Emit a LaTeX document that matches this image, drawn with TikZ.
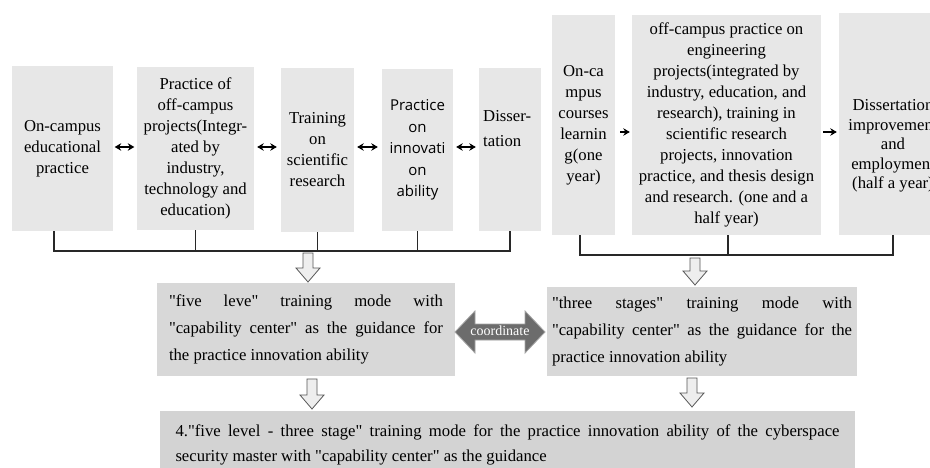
\documentclass[tikz,border=0pt]{standalone}
\usepackage{fontspec}
\setmainfont{Liberation Serif}[Ligatures=TeXOff]
\newfontfamily\boxsans{Open Sans}
\usetikzlibrary{arrows.meta,calc}

\definecolor{topfill}{RGB}{231,231,231}
\definecolor{midfill}{RGB}{216,216,216}
\definecolor{botfill}{RGB}{211,211,211}
\definecolor{barcol}{RGB}{40,40,40}
\definecolor{hollowfill}{RGB}{238,238,238}
\definecolor{hollowline}{RGB}{85,85,85}
\definecolor{coordfill}{RGB}{108,108,108}
\definecolor{coordline}{RGB}{165,165,165}

% block arrow pointing down: x, top of shaft, tip
\newcommand\hollowdown[3]{%
  \draw[hollow] (#1-5,#2) -- (#1+5,#2) -- (#1+5,#3-14) -- (#1+12,#3-14)
    -- (#1,#3) -- (#1-12,#3-14) -- (#1-5,#3-14) -- cycle;}

\begin{document}
\begin{tikzpicture}[x=1pt,y=-1pt,
  txt/.style={font=\fontsize{16.7}{21}\selectfont},
  topbox/.style={txt, fill=topfill, inner sep=0pt, align=center},
  midbox/.style={fill=midfill, inner ysep=0pt, align=justify,
    font=\fontsize{16.7}{27}\selectfont,
    execute at begin node={\hyphenpenalty=10000 }},
  botbox/.style={fill=botfill, inner ysep=0pt, align=justify,
    font=\fontsize{16.7}{24.5}\selectfont,
    execute at begin node={\hyphenpenalty=10000 }},
  bar/.style={draw=barcol, line width=1.8pt},
  link/.style={line width=1.3pt, black},
  dbl/.style={link, {Stealth[length=6.5pt,width=7.5pt]}-{Stealth[length=6.5pt,width=7.5pt]}},
  fwd/.style={link, -{Stealth[length=6.5pt,width=7.5pt]}},
  hollow/.style={fill=hollowfill, draw=hollowline, line width=0.8pt, line join=miter},
]
\useasboundingbox (0,0) rectangle (930,468);
\clip (0,0) rectangle (930,468);
\fill[white] (0,0) rectangle (930,468);

% five levels
\node[topbox, minimum width=101pt, minimum height=165pt] (b1) at (62.5,148.5)
  {On-campus\\educational\\practice};
\node[topbox, minimum width=117pt, minimum height=163pt] (b2) at (195.5,148.5)
  {Practice of\\off-campus\\projects(Integr-\\ated by\\industry,\\technology and\\education)};
\node[topbox, minimum width=73pt, minimum height=164pt] (b3) at (317.5,150)
  {Training\\on\\scientific\\research};
\node[topbox, minimum width=71pt, minimum height=162pt,
  font=\boxsans\fontsize{15}{21.5}\selectfont] (b4) at (417.5,150)
  {Practice\\on\\innovati\\on\\ability};
\node[topbox, minimum width=62pt, minimum height=163pt] (b5) at (510,149.5) {};
\node[txt, anchor=west, align=left, inner sep=0pt,
  font=\fontsize{16.7}{25}\selectfont] (b5t) at (483,128.5) {Disser-\\tation};

% three stages
\node[topbox, minimum width=63pt, minimum height=220pt] (b6) at (583.5,125)
  {On-ca\\mpus\\courses\\learnin\\g(one\\year)};
\node[topbox, minimum width=189pt, minimum height=220pt] (b7) at (726.5,125)
  {off-campus practice on\\engineering\\projects(integrated by\\industry, education, and\\research), training in\\scientific research\\projects, innovation\\practice, and thesis design\\and research. (one and a\\half year)};
\node[topbox, minimum width=108pt, minimum height=222pt] (b8) at (893,124) {};
\node[txt, align=center, inner sep=0pt,
  font=\fontsize{16.7}{19.5}\selectfont] (b8t) at (893,146)
  {Dissertation\\improvement\\and\\employment\\(half a year)};

% links between the boxes
\coordinate (arrL) at (0,147);
\coordinate (arrR) at (0,132);
\draw[dbl, shorten <=1.5pt, shorten >=2.5pt] (b1.east |- arrL) -- (b2.west |- arrL);
\draw[dbl, shorten <=3pt, shorten >=4pt] (b2.east |- arrL) -- (b3.west |- arrL);
\draw[dbl, shorten <=3pt, shorten >=4pt] (b3.east |- arrL) -- (b4.west |- arrL);
\draw[dbl, shorten <=3pt, shorten >=3pt] (b4.east |- arrL) -- (b5.west |- arrL);
\draw[fwd, shorten <=5pt, shorten >=2pt] (b6.east |- arrR) -- (b7.west |- arrR);
\draw[fwd, shorten <=2pt, shorten >=2pt] (b7.east |- arrR) -- (b8.west |- arrR);

% brackets under the two groups
\coordinate (lb) at (0,251);
\coordinate (rb) at (0,255);
\draw[bar] ([xshift=-8.5pt]b1.south) -- ([xshift=-8.5pt]b1.south |- lb) -- (b5.south |- lb) -- (b5.south);
\foreach \b in {b2,b3,b4} \draw[bar] (\b.south) -- (\b.south |- lb);
\draw[bar] ([xshift=-3.5pt]b6.south) -- ([xshift=-3.5pt]b6.south |- rb) -- (b8.south |- rb) -- (b8.south);
\draw[bar] ([xshift=1.5pt]b7.south) -- ([xshift=1.5pt]b7.south |- rb);

% the two training modes
\node[midbox, text width=274pt, inner xsep=12pt, minimum height=93pt] (m1) at (306,329.5)
  {"five leve" training mode with\linebreak "capability center" as the guidance for\linebreak the practice innovation ability};
\node[midbox, text width=300pt, inner xsep=5pt, minimum height=89pt] (m2) at (702,331.5)
  {"three stages" training mode with\linebreak "capability center" as the guidance for the\linebreak practice innovation ability};

% combined mode
\node[botbox, text width=664pt, inner xsep=15.5pt, minimum height=68pt] (bt) at (507.5,445)
  {4."five level - three stage" training mode for the practice innovation ability of the cyberspace\linebreak security master with "capability center" as the guidance};

% block arrows
\hollowdown{308}{253}{282}
\hollowdown{695}{258}{285}
\hollowdown{312}{379}{409}
\hollowdown{692}{378}{407}

% coordinate arrow between the two modes
\draw[fill=coordfill, draw=coordline, line width=0.8pt, line join=miter]
  (455,332) -- (475,311) -- (475,324) -- (525,324) -- (525,311) -- (545,332)
  -- (525,353) -- (525,340) -- (475,340) -- (475,353) -- cycle;
\node[text=white, inner sep=0pt, font=\fontsize{14}{14}\selectfont] (co) at (500,331) {coordinate};
\end{tikzpicture}
\end{document}
